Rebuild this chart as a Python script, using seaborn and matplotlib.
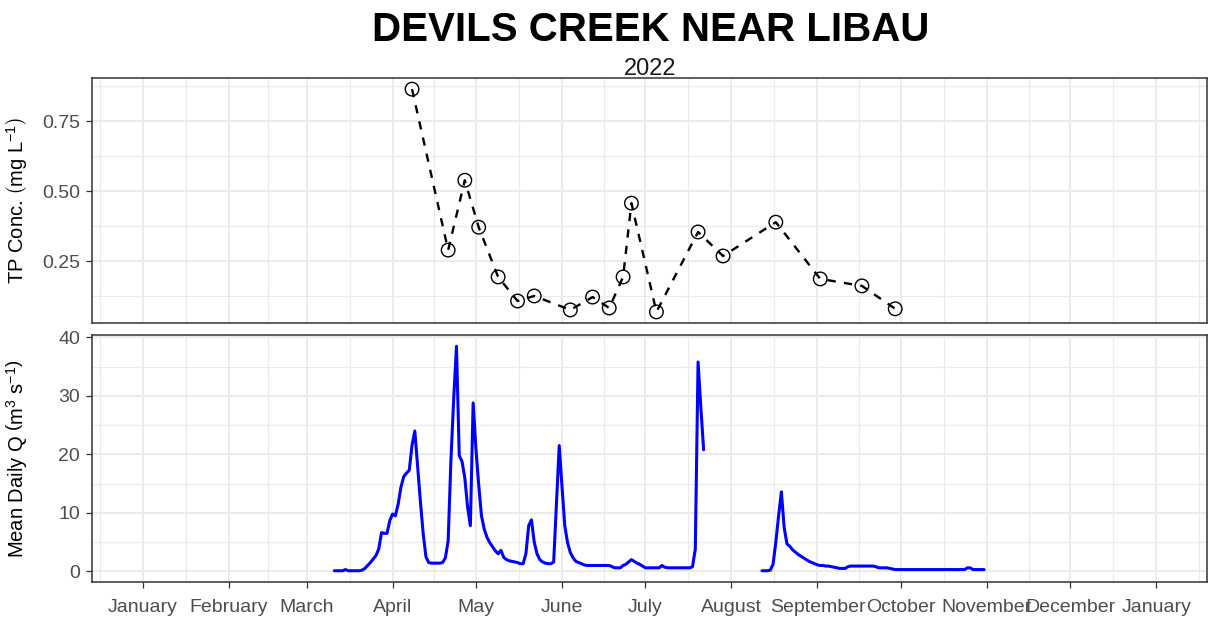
import pandas as pd
import matplotlib
matplotlib.use("Agg")
import matplotlib.pyplot as plt
import seaborn as sns

# values
site_name = "DEVILS CREEK NEAR LIBAU"
year_label = "2022"

tp_dates = ["2022-04-08", "2022-04-21", "2022-04-27", "2022-05-02", "2022-05-09",
            "2022-05-16", "2022-05-22", "2022-06-04", "2022-06-12", "2022-06-18",
            "2022-06-23", "2022-06-26", "2022-07-05", "2022-07-20", "2022-07-29",
            "2022-08-17", "2022-09-02", "2022-09-17", "2022-09-29"]
tp_conc = [0.865, 0.289, 0.539, 0.371, 0.193, 0.107, 0.125, 0.075, 0.121, 0.082,
           0.193, 0.457, 0.068, 0.354, 0.268, 0.389, 0.186, 0.161, 0.079]

# mean daily discharge, two gauged periods (no record Jul 23 - Aug 11)
q_spring_start = "2022-03-11"
q_spring = [0.1, 0.1, 0.1, 0.1, 0.3, 0.1, 0.1, 0.1, 0.1, 0.1,
            0.2, 0.5, 1.0, 1.5, 2.1, 2.7, 3.8, 6.6, 6.5, 6.5,
            8.7, 9.8, 9.5, 11.5, 14.4, 16.2, 16.8, 17.3, 21.6, 24.0,
            18.0, 12.0, 6.5, 2.5, 1.5, 1.4, 1.4, 1.4, 1.4, 1.5,
            2.3, 5.2, 19.0, 29.5, 38.5, 19.8, 18.8, 16.0, 11.0, 7.8,
            28.8, 21.0, 14.8, 9.5, 7.2, 5.8, 4.9, 4.2, 3.5, 3.0,
            3.6, 2.4, 2.0, 1.8, 1.7, 1.6, 1.5, 1.3, 1.3, 3.0,
            7.8, 8.8, 5.0, 3.0, 2.0, 1.6, 1.4, 1.3, 1.3, 1.6,
            11.5, 21.5, 14.5, 7.8, 4.9, 3.2, 2.3, 1.7, 1.5, 1.3,
            1.1, 1.0, 1.0, 1.0, 1.0, 1.0, 1.0, 1.0, 1.0, 1.0,
            0.8, 0.6, 0.6, 0.6, 1.0, 1.2, 1.6, 2.0, 1.7, 1.4,
            1.2, 0.9, 0.6, 0.6, 0.6, 0.6, 0.6, 0.6, 1.0, 0.7,
            0.6, 0.6, 0.6, 0.6, 0.6, 0.6, 0.6, 0.6, 0.6, 0.8,
            3.8, 35.8, 28.0, 20.8]
q_fall_start = "2022-08-12"
q_fall = [0.1, 0.1, 0.1, 0.2, 1.2, 5.0, 9.5, 13.6, 7.5, 4.7,
          4.3, 3.7, 3.3, 2.9, 2.6, 2.3, 2.0, 1.7, 1.5, 1.3,
          1.1, 1.0, 1.0, 0.9, 0.9, 0.8, 0.7, 0.6, 0.5, 0.5,
          0.5, 0.8, 0.9, 0.9, 0.9, 0.9, 0.9, 0.9, 0.9, 0.9,
          0.9, 0.8, 0.6, 0.6, 0.6, 0.6, 0.5, 0.4, 0.3, 0.3,
          0.3, 0.3, 0.3, 0.3, 0.3, 0.3, 0.3, 0.3, 0.3, 0.3,
          0.3, 0.3, 0.3, 0.3, 0.3, 0.3, 0.3, 0.3, 0.3, 0.3,
          0.3, 0.3, 0.3, 0.3, 0.6, 0.6, 0.3, 0.3, 0.3, 0.3,
          0.3]

month_labels = ["January", "February", "March", "April", "May", "June", "July",
                "August", "September", "October", "November", "December", "January"]
tp_ticks = [0.25, 0.50, 0.75]
q_ticks = [0, 10, 20, 30, 40]

tp = pd.DataFrame({"date": pd.to_datetime(tp_dates), "tp": tp_conc})
q = pd.concat([
    pd.DataFrame({"date": pd.date_range(q_spring_start, periods=len(q_spring)),
                  "q": q_spring, "period": "spring"}),
    pd.DataFrame({"date": pd.date_range(q_fall_start, periods=len(q_fall)),
                  "q": q_fall, "period": "fall"}),
], ignore_index=True)

sns.set_theme(style="white")
plt.rcParams["font.family"] = ["Liberation Sans", "DejaVu Sans"]
plt.rcParams["mathtext.fontset"] = "custom"
plt.rcParams["mathtext.rm"] = "Liberation Sans"
plt.rcParams["mathtext.it"] = "Liberation Sans:italic"
plt.rcParams["mathtext.bf"] = "Liberation Sans:bold"

fig = plt.figure(figsize=(12.09, 6.18), dpi=100)
ax_tp = fig.add_axes([0.0761, 0.4773, 0.9222, 0.3965])
ax_q = fig.add_axes([0.0761, 0.0583, 0.9222, 0.3996], sharex=ax_tp)

sns.lineplot(data=tp, x="date", y="tp", ax=ax_tp, color="black",
             linewidth=1.7, linestyle=(0, (3.5, 3.5)))
sns.scatterplot(data=tp, x="date", y="tp", ax=ax_tp, marker="o", s=95,
                color="black", facecolor="none", edgecolor="black",
                linewidth=1.0, zorder=3)
sns.lineplot(data=q, x="date", y="q", units="period", estimator=None,
             ax=ax_q, color="blue", linewidth=2.2)

# x scale: whole year plus 5% padding like ggplot
x0, x1 = pd.Timestamp("2022-01-01"), pd.Timestamp("2023-01-01")
pad = (x1 - x0) * 0.05
ax_q.set_xlim(x0 - pad, x1 + pad)
month_starts = pd.date_range("2022-01-01", "2023-01-01", freq="MS")
edges = pd.date_range("2021-12-01", "2023-02-01", freq="MS")
minor_x = edges[:-1] + (edges[1:] - edges[:-1]) / 2
ax_q.set_xticks(month_starts)
ax_q.set_xticklabels(month_labels)
ax_q.set_xticks(minor_x, minor=True)

def pad_lim(vals):
    lo, hi = min(vals), max(vals)
    p = (hi - lo) * 0.05
    return lo - p, hi + p

ax_tp.set_ylim(*pad_lim(tp_conc))
ax_tp.set_yticks(tp_ticks)
ax_tp.set_yticklabels([f"{v:.2f}" for v in tp_ticks])
ax_tp.set_yticks([0.125, 0.375, 0.625, 0.875], minor=True)
ax_q.set_ylim(*pad_lim(q_spring + q_fall))
ax_q.set_yticks(q_ticks)
ax_q.set_yticks([5, 15, 25, 35], minor=True)

for ax in (ax_tp, ax_q):
    ax.set_axisbelow(True)
    ax.grid(which="major", color="#EBEBEB", linewidth=1.4)
    ax.grid(which="minor", color="#EBEBEB", linewidth=0.9)
    for s in ax.spines.values():
        s.set_visible(True)
        s.set_color("#333333")
        s.set_linewidth(1.1)
    ax.tick_params(which="major", direction="out", length=4.5, width=0.9,
                   color="#333333", labelsize=14, labelcolor="#4D4D4D",
                   left=True, bottom=True)
    ax.tick_params(axis="y", pad=4)
    ax.tick_params(axis="x", pad=8)
    ax.tick_params(which="minor", length=0)
    ax.set_xlabel("")
ax_tp.tick_params(axis="x", which="both", bottom=False, labelbottom=False)

ax_tp.set_ylabel(r"TP Conc. $\left(\mathrm{mg\ L^{-1}}\right)$", fontsize=14.5, color="black")
ax_q.set_ylabel(r"Mean Daily Q $\left(\mathrm{m^{3}\ s^{-1}}\right)$", fontsize=14.5, color="black")
ax_tp.yaxis.set_label_coords(-0.056, 0.5)
ax_q.yaxis.set_label_coords(-0.056, 0.5)

fig.text(0.5385, 0.952, site_name, ha="center", va="center",
         fontsize=29, fontweight="bold", color="black")
fig.text(0.5375, 0.889, year_label, ha="center", va="center",
         fontsize=17, color="#1A1A1A")

fig.savefig("out.png", dpi=100)
